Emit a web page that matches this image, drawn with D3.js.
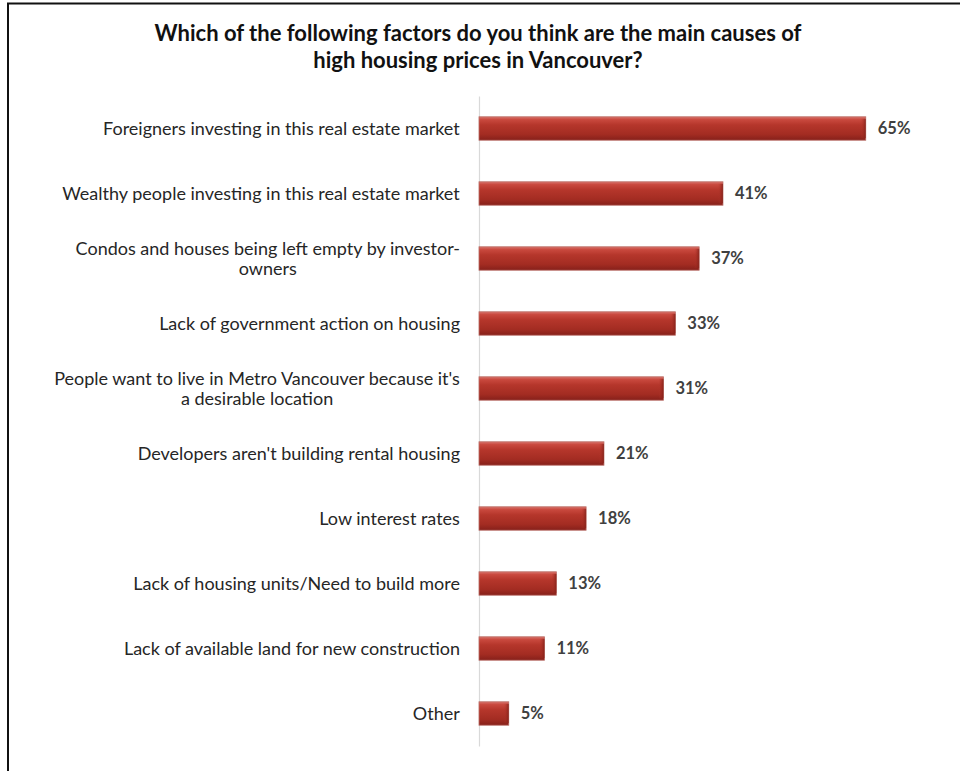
<!DOCTYPE html>
<html>
<head>
<meta charset="utf-8">
<script src="https://cdn.jsdelivr.net/npm/d3@7"></script>
<style>
  body { margin: 0; background: #fff; }
  text { font-family: Lato, "Open Sans", sans-serif; }
</style>
</head>
<body>
<div id="chart"></div>
<script>
// 数据
const categories = [
  "Foreigners investing in this real estate market",
  "Wealthy people investing in this real estate market",
  "Condos and houses being left empty by investor-\nowners",
  "Lack of government action on housing",
  "People want to live in Metro Vancouver because it's\na desirable location",
  "Developers aren't building rental housing",
  "Low interest rates",
  "Lack of housing units/Need to build more",
  "Lack of available land for new construction",
  "Other"
];
const values = [65, 41, 37, 33, 31, 21, 18, 13, 11, 5];
const titleLines = [
  "Which of the following factors do you think are the main causes of",
  "high housing prices in Vancouver?"
];

const width = 960, height = 771;
const margin = { top: 96, left: 479, bottom: 25, right: 64 };

const svg = d3.select("#chart").append("svg")
  .attr("width", width)
  .attr("height", height);

// 渐变
const defs = svg.append("defs");
const grad = defs.append("linearGradient")
  .attr("id", "barGrad")
  .attr("x1", 0).attr("y1", 0).attr("x2", 0).attr("y2", 1);
[[0, "#d9736b"], [0.12, "#c9493e"], [0.35, "#b5362b"], [0.75, "#a32c22"], [1, "#86201a"]]
  .forEach(([o, c]) => grad.append("stop").attr("offset", o).attr("stop-color", c));
const capGrad = defs.append("linearGradient")
  .attr("id", "capGrad")
  .attr("x1", 0).attr("y1", 0).attr("x2", 1).attr("y2", 0);
[[0, "#b5382d", 0], [1, "#7e1d15", 0.8]]
  .forEach(([o, c, a]) => capGrad.append("stop").attr("offset", o).attr("stop-color", c).attr("stop-opacity", a));

// 边框
svg.append("line")
  .attr("x1", 7).attr("x2", width).attr("y1", 3.5).attr("y2", 3.5)
  .attr("stroke", "#111").attr("stroke-width", 2);
svg.append("line")
  .attr("x1", 8).attr("x2", 8).attr("y1", 3).attr("y2", height)
  .attr("stroke", "#111").attr("stroke-width", 2);

// 标题
svg.append("g")
  .attr("font-size", 22)
  .attr("font-weight", "bold")
  .attr("fill", "#111")
  .attr("text-anchor", "middle")
  .selectAll("text")
  .data(titleLines)
  .join("text")
  .attr("x", 478)
  .attr("y", (d, i) => 41 + i * 27)
  .text(d => d);

const x = d3.scaleLinear()
  .domain([0, 70])
  .range([margin.left, margin.left + 70 * 5.95]);

const y = d3.scaleBand()
  .domain(categories)
  .range([margin.top, height - margin.bottom])
  .paddingInner(0.64)
  .paddingOuter(0.32);

// 坐标轴线
svg.append("g")
  .attr("transform", `translate(${margin.left},0)`)
  .call(d3.axisLeft(y).tickSize(0).tickFormat(""))
  .call(g => g.select(".domain").attr("stroke", "#d9d9d9").attr("stroke-width", 1.2));

// 柱子
const bars = svg.append("g")
  .selectAll("g")
  .data(values)
  .join("g")
  .attr("transform", (d, i) => `translate(0,${y(categories[i])})`);

bars.append("rect")
  .attr("x", x(0))
  .attr("width", d => x(d) - x(0))
  .attr("height", y.bandwidth())
  .attr("fill", "url(#barGrad)")
  .attr("stroke", "#b86a63")
  .attr("stroke-width", 0.8);

bars.append("rect")
  .attr("x", d => x(d) - 5)
  .attr("y", 2)
  .attr("width", 5)
  .attr("height", y.bandwidth() - 4)
  .attr("fill", "url(#capGrad)");

// 数值标签
bars.append("text")
  .attr("x", d => x(d) + 12)
  .attr("y", y.bandwidth() / 2)
  .attr("dy", "0.36em")
  .attr("font-size", 16.5)
  .attr("font-weight", "bold")
  .attr("fill", "#404040")
  .text(d => d + "%");

// 类别标签
const labelRight = 460;
const lineH = 20;
svg.append("g")
  .attr("font-size", 18)
  .attr("fill", "#262626")
  .selectAll("text")
  .data(categories)
  .join("text")
  .attr("text-anchor", "middle")
  .each(function (d) {
    const lines = d.split("\n");
    const t = d3.select(this);
    const cy = y(d) + y.bandwidth() / 2;
    lines.forEach((ln, j) => {
      t.append("tspan")
        .attr("x", 0)
        .attr("y", cy + (j - (lines.length - 1) / 2) * lineH)
        .attr("dy", "0.36em")
        .text(ln);
    });
    const w = this.getBBox().width;
    t.selectAll("tspan").attr("x", labelRight - w / 2);
  });
</script>
</body>
</html>
